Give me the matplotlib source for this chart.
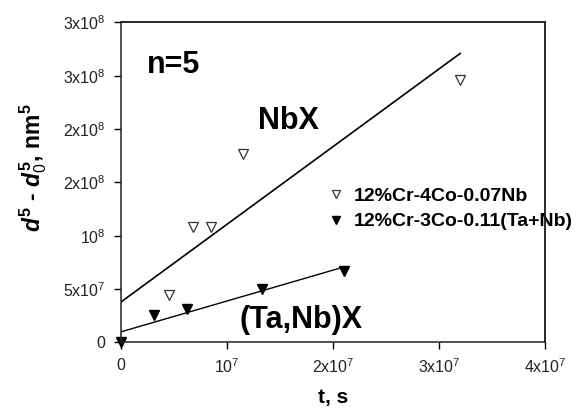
import numpy as np
import matplotlib
matplotlib.use("Agg")
import matplotlib.pyplot as plt

plt.rcParams['font.family'] = ['Liberation Sans', 'DejaVu Sans']
plt.rcParams['mathtext.fontset'] = 'custom'
plt.rcParams['mathtext.rm'] = 'Liberation Sans'
plt.rcParams['mathtext.it'] = 'Liberation Sans:bold:italic'
plt.rcParams['mathtext.bf'] = 'Liberation Sans:bold'

# NbX: 12%Cr-4Co-0.07Nb
t_nb = [4.55e6, 6.75e6, 8.5e6, 1.15e7, 3.2e7]
d_nb = [4.45e7, 1.08e8, 1.08e8, 1.77e8, 2.46e8]
# (Ta,Nb)X: 12%Cr-3Co-0.11(Ta+Nb)
t_ta = [0, 3.1e6, 6.2e6, 1.33e7, 2.1e7]
d_ta = [0, 2.6e7, 3.1e7, 5.0e7, 6.7e7]

# fitted lines (end points)
fit_nb_t = [0, 3.2e7]
fit_nb_d = [3.8e7, 2.71e8]
fit_ta_t = [0, 2.11e7]
fit_ta_d = [1.0e7, 7.1e7]

yticks = [0, 5e7, 1e8, 1.5e8, 2e8, 2.5e8, 3e8]
ylabels = ['0', '5x10$^{7}$', '10$^{8}$', '2x10$^{8}$', '2x10$^{8}$', '3x10$^{8}$', '3x10$^{8}$']
xticks = [0, 1e7, 2e7, 3e7, 4e7]
xlabels = ['0', '10$^{7}$', '2x10$^{7}$', '3x10$^{7}$', '4x10$^{7}$']

fig = plt.figure(figsize=(5.81, 4.12), dpi=100)
ax = fig.add_axes([0.2083, 0.1687, 0.7297, 0.7767])

ax.plot(fit_nb_t, fit_nb_d, color='black', lw=1.2)
ax.plot(fit_ta_t, fit_ta_d, color='black', lw=1.0)
ax.plot(t_nb, d_nb, 'v', ms=7, mfc='white', mec='#333333', mew=0.9,
        label='12%Cr-4Co-0.07Nb', clip_on=False)
ax.plot(t_ta, d_ta, 'v', ms=7, mfc='black', mec='black',
        label='12%Cr-3Co-0.11(Ta+Nb)', clip_on=False)

ax.set_xlim(0, 4e7)
ax.set_ylim(0, 3e8)
ax.set_xticks(xticks)
ax.set_xticklabels(xlabels)
ax.set_yticks(yticks)
ax.set_yticklabels(ylabels)
ax.tick_params(direction='out', length=5, width=1, labelsize=11.5, pad=6,
               top=False, right=False, labelcolor='#222222')
for s in ['left', 'bottom', 'top', 'right']:
    ax.spines[s].set_visible(True)
    ax.spines[s].set_linewidth(1.1)
    ax.spines[s].set_color('#222222')
# frame lines on top and right, drawn over the legend as in the original
ax.plot([0, 4e7], [3e8, 3e8], color='#222222', lw=1.1, clip_on=False, zorder=6)
ax.plot([4e7, 4e7], [0, 3e8], color='#222222', lw=1.1, clip_on=False, zorder=6)

ax.set_xlabel('t, s', fontsize=15, fontweight='bold', labelpad=8)
ax.set_ylabel(r'$d^{\mathbf{5}}$ - $d_{0}^{\mathbf{5}}$, nm$^{\mathbf{5}}$',
              fontsize=16.5, fontweight='bold')
ax.yaxis.set_label_coords(-0.17, 0.545)

ax.text(2.4e6, 2.6e8, 'n=5', fontsize=22, fontweight='bold', va='center')
ax.text(1.29e7, 2.08e8, 'NbX', fontsize=22, fontweight='bold', va='center')
ax.text(1.12e7, 2.1e7, '(Ta,Nb)X', fontsize=22, fontweight='bold', va='center')

leg = ax.legend(loc='upper left', bbox_to_anchor=(0.47, 0.51), frameon=False,
                prop={'weight': 'bold', 'size': 14}, handlelength=0.8,
                handletextpad=0.5, labelspacing=0.42, borderaxespad=0,
                markerscale=0.85)
leg.set_zorder(5)

fig.savefig('out.png', dpi=100)
